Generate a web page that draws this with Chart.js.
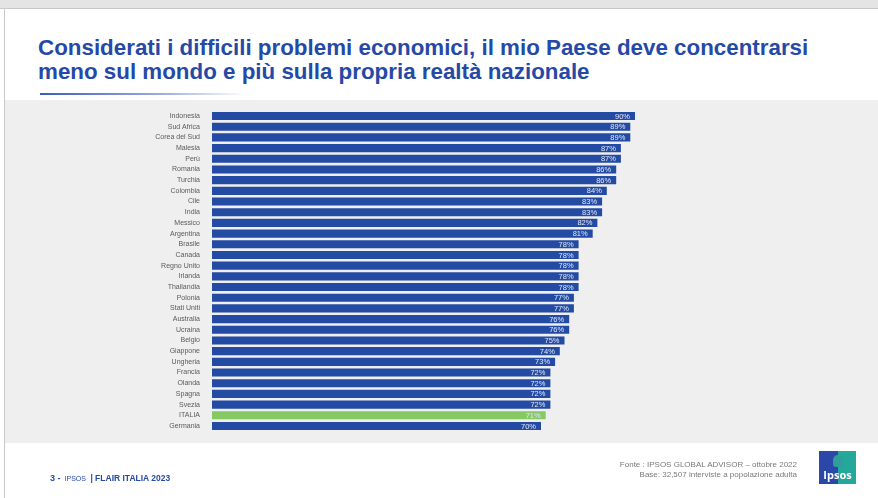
<!DOCTYPE html>
<html lang="it">
<head>
<meta charset="utf-8">
<title>Concentrarsi sulla realtà nazionale</title>
<script src="https://cdn.jsdelivr.net/npm/chart.js@4.4.0/dist/chart.umd.min.js"></script>
<style>
    html, body { margin: 0; padding: 0; background: #ffffff; }
    body { width: 878px; height: 498px; position: relative; overflow: hidden; font-family: "Liberation Sans", Arial, sans-serif; }
    .top-strip { position: absolute; left: 0; top: 0; width: 878px; height: 8px; background: #e4e4e4; border-bottom: 1px solid #c9c9c9; }
    .left-edge { position: absolute; left: 4px; top: 9px; width: 1px; height: 489px; background: #c9c9c9; }
    .panel { position: absolute; left: 5px; top: 100px; width: 873px; height: 343px; background: #efefef; }
    .title { position: absolute; left: 38px; top: 36px; color: #2549a6; font-weight: bold; font-size: 22.5px; line-height: 24px; white-space: nowrap; transform-origin: 0 0; }
    .title div { white-space: nowrap; }
    .rule { position: absolute; left: 40px; top: 93px; width: 205px; height: 2px; background: linear-gradient(to right, #3b5cc0, rgba(59, 92, 192, 0.5) 60%, rgba(59, 92, 192, 0)); }
    canvas { position: absolute; left: 0; top: 0; }
    .footer-left { position: absolute; left: 50px; top: 467px; color: #2549a6; white-space: nowrap; }
    .footer-left .num { font-weight: bold; font-size: 9px; }
    .footer-left .brand { font-size: 7px; margin-left: 4px; }
    .footer-left .name { font-weight: bold; font-size: 8.5px; }
    .source { position: absolute; right: 81px; top: 460px; color: #7a7a7a; font-size: 8px; line-height: 9.5px; text-align: right; white-space: nowrap; }
    .logo { position: absolute; left: 819px; top: 451px; width: 37px; height: 33px; overflow: hidden; }
    .logo .l { position: absolute; left: 0; top: 0; width: 19px; height: 33px; background: #2b48a8; }
    .logo .r { position: absolute; left: 19px; top: 0; width: 18px; height: 33px; background: #24a89b; }
    .logo .head { position: absolute; left: 14px; top: 4px; width: 10px; height: 12px; border-radius: 5px 5px 3px 3px; background: #2f9e9a; }
    .logo .txt { position: absolute; left: 0; top: 16px; width: 37px; text-align: center; color: #ffffff; font-family: "Open Sans", sans-serif; font-weight: bold; font-size: 11px; }
</style>
</head>
<body>
<div class="top-strip"></div>
<div class="left-edge"></div>
<div class="panel"></div>
<div class="title" id="title">
    <div>Considerati i difficili problemi economici, il mio Paese deve concentrarsi</div>
    <div>meno sul mondo e più sulla propria realtà nazionale</div>
</div>
<div class="rule"></div>
<canvas id="barChart" width="878" height="498"></canvas>
<div class="footer-left"><span class="num">3 -</span><span class="brand">IPSOS</span> <span class="name">| FLAIR ITALIA 2023</span></div>
<div class="source">Fonte : IPSOS GLOBAL ADVISOR – ottobre 2022<br>Base: 32,507 interviste a popolazione adulta</div>
<div class="logo"><div class="l"></div><div class="r"></div><div class="head"></div><div class="txt">Ipsos</div></div>

<script>
// Paesi e percentuali di accordo
const countries = [
    'Indonesia', 'Sud Africa', 'Corea del Sud', 'Malesia', 'Perù', 'Romania', 'Turchia',
    'Colombia', 'Cile', 'India', 'Messico', 'Argentina', 'Brasile', 'Canada', 'Regno Unito',
    'Irlanda', 'Thailandia', 'Polonia', 'Stati Uniti', 'Australia', 'Ucraina', 'Belgio',
    'Giappone', 'Ungheria', 'Francia', 'Olanda', 'Spagna', 'Svezia', 'ITALIA', 'Germania'
];
const agreePercent = [
    90, 89, 89, 87, 87, 86, 86,
    84, 83, 83, 82, 81, 78, 78, 78,
    78, 78, 77, 77, 76, 76, 75,
    74, 73, 72, 72, 72, 72, 71, 70
];
const highlightCountry = 'ITALIA';

const barBlue = '#234ba3';
const barGreen = '#86c862';

// Narrow the title to the width of the slide heading
const title = document.getElementById('title');
title.style.transform = 'scaleX(' + (770 / title.scrollWidth) + ')';

// Percent labels drawn inside the end of each bar
const valueLabels = {
    id: 'valueLabels',
    afterDatasetsDraw(chart) {
        const ctx = chart.ctx;
        const meta = chart.getDatasetMeta(0);
        ctx.save();
        ctx.font = '7.5px "Liberation Sans", Arial, sans-serif';
        ctx.fillStyle = '#e2e7f6';
        ctx.textAlign = 'right';
        ctx.textBaseline = 'middle';
        meta.data.forEach((bar, i) => {
            ctx.fillText(agreePercent[i] + '%', bar.x - 5, bar.y + 0.5);
        });
        ctx.restore();
    }
};

const ctx = document.getElementById('barChart').getContext('2d');

window.myBarChart = new Chart(ctx, {
    type: 'bar',
    data: {
        labels: countries,
        datasets: [{
            data: agreePercent,
            backgroundColor: countries.map(c => c === highlightCountry ? barGreen : barBlue),
            borderWidth: 0,
            categoryPercentage: 0.76,
            barPercentage: 1
        }]
    },
    options: {
        indexAxis: 'y',
        responsive: false,
        animation: false,
        layout: {
            padding: { top: 110.7, bottom: 66.7, left: 0, right: 196 }
        },
        plugins: {
            legend: { display: false },
            tooltip: { enabled: false }
        },
        scales: {
            x: {
                display: false,
                min: 0,
                max: 100
            },
            y: {
                afterFit(scale) { scale.width = 212; },
                grid: { display: false },
                border: { display: false },
                ticks: {
                    autoSkip: false,
                    padding: 4,
                    color: '#5a5a5a',
                    font: { family: '"Liberation Sans", Arial, sans-serif', size: 7 }
                }
            }
        }
    },
    plugins: [valueLabels]
});
</script>
</body>
</html>
